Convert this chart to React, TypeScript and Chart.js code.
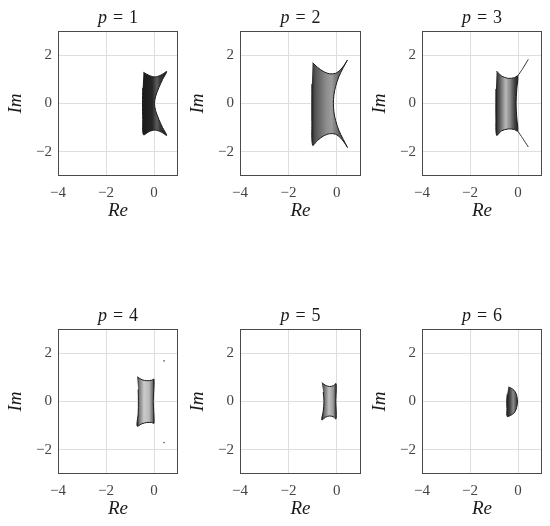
import React, { useEffect, useRef } from "react";
import { Chart, registerables } from "chart.js";

Chart.register(...registerables);

// ---- axis ticks ----
const xTicks = [-4, -2, 0];
const yTicks = [-2, 0, 2];
const pValues = [1, 2, 3, 4, 5, 6];

// ---- region boundaries (Re, Im) ----
const p1Re = [-0.44, -0.2, 0.05, 0.3, 0.53, 0.36, 0.2, 0.07, 0.02, 0.07, 0.2, 0.36, 0.53, 0.3, 0.05, -0.2, -0.44, -0.47, -0.48, -0.47];
const p1Im = [1.29, 1.16, 1.1, 1.18, 1.32, 1.0, 0.65, 0.3, 0, -0.3, -0.65, -1.0, -1.32, -1.18, -1.1, -1.16, -1.29, -0.65, 0, 0.65];

const p2Re = [-1.0, -0.8, -0.56, -0.3, -0.05, 0.15, 0.3, 0.44, 0.25, 0.08, -0.05, -0.12, -0.14, -0.12, -0.05, 0.08, 0.25, 0.44, 0.3, 0.15, -0.05, -0.3, -0.56, -0.8, -1.0, -1.03, -1.03];
const p2Im = [1.69, 1.5, 1.33, 1.23, 1.25, 1.4, 1.58, 1.8, 1.45, 1.1, 0.7, 0.35, 0, -0.35, -0.7, -1.1, -1.45, -1.82, -1.6, -1.42, -1.27, -1.25, -1.35, -1.53, -1.73, -0.8, 0.8];

const p3Re = [-0.89, -0.7, -0.4, -0.15, -0.01, -0.05, -0.08, -0.05, -0.01, -0.15, -0.4, -0.7, -0.89, -0.92, -0.92];
const p3Im = [1.34, 1.15, 1.04, 1.07, 1.14, 0.6, 0, -0.6, -1.14, -1.08, -1.05, -1.14, -1.32, -0.6, 0.6];
const p3HornRe = [-0.01, 0.2, 0.43];
const p3HornTopIm = [1.14, 1.45, 1.83];
const p3HornBottomIm = [-1.14, -1.45, -1.8];

const p4Re = [-0.7, -0.5, -0.3, -0.1, 0.0, -0.03, 0.0, -0.1, -0.3, -0.5, -0.7, -0.66, -0.65, -0.66];
const p4Im = [1.02, 0.9, 0.86, 0.88, 0.92, 0, -0.9, -0.87, -0.87, -0.92, -1.02, -0.5, 0, 0.5];
const p4DotRe = [0.42, 0.42];
const p4DotIm = [1.68, -1.7];

const p5Re = [-0.62, -0.45, -0.3, -0.15, -0.03, -0.04, -0.03, -0.15, -0.3, -0.45, -0.62, -0.56, -0.53, -0.56];
const p5Im = [0.78, 0.66, 0.62, 0.65, 0.74, 0, -0.72, -0.63, -0.6, -0.64, -0.76, -0.4, 0, 0.4];

const p6Re = [-0.4, -0.28, -0.17, -0.08, -0.04, -0.02, -0.04, -0.08, -0.17, -0.3, -0.45, -0.46, -0.47, -0.45];
const p6Im = [0.6, 0.55, 0.47, 0.33, 0.17, 0, -0.17, -0.33, -0.48, -0.57, -0.62, -0.3, 0, 0.3];

// ---- styles ----
const SERIF = '"Liberation Serif", "DejaVu Serif", serif';
const shades: [number, string][][] = [
  [[0, "#1a1a1a"], [0.4, "#262626"], [0.6, "#5e5e5e"], [0.72, "#3a3a3a"], [1, "#1e1e1e"]],
  [[0, "#2a2a2a"], [0.1, "#555"], [0.4, "#8c8c8c"], [0.55, "#9c9c9c"], [0.75, "#666"], [1, "#333"]],
  [[0, "#222"], [0.15, "#555"], [0.45, "#b8b8b8"], [0.65, "#8a8a8a"], [0.85, "#444"], [1, "#222"]],
  [[0, "#222"], [0.12, "#777"], [0.4, "#cacaca"], [0.7, "#bbb"], [0.9, "#777"], [1, "#333"]],
  [[0, "#222"], [0.15, "#666"], [0.5, "#c0c0c0"], [0.8, "#999"], [1, "#333"]],
  [[0, "#222"], [0.3, "#444"], [0.6, "#8a8a8a"], [0.85, "#555"], [1, "#222"]],
];
const layouts = [
  { left: 0, top: 0, width: 190, height: 230, right: 12 },
  { left: 182, top: 0, width: 190, height: 230, right: 11 },
  { left: 364, top: 0, width: 186, height: 230, right: 8 },
  { left: 0, top: 298, width: 190, height: 228, right: 12 },
  { left: 182, top: 298, width: 190, height: 228, right: 11 },
  { left: 364, top: 298, width: 186, height: 228, right: 8 },
];

const zip = (xs: number[], ys: number[]) => xs.map((x, i) => ({ x, y: ys[i] }));

const regions = [
  { re: p1Re, im: p1Im },
  { re: p2Re, im: p2Im },
  { re: p3Re, im: p3Im },
  { re: p4Re, im: p4Im },
  { re: p5Re, im: p5Im },
  { re: p6Re, im: p6Im },
];

const fmt = (v: number) => (v < 0 ? "\u2212" + Math.abs(v) : String(v));

function Panel({ idx }: { idx: number }) {
  const ref = useRef<HTMLCanvasElement | null>(null);
  const L = layouts[idx];
  useEffect(() => {
    if (!ref.current) return;
    const region = regions[idx];
    const stops = shades[idx];
    const minRe = Math.min(...region.re);
    const maxRe = Math.max(...region.re);
    const short = 230 - L.height;
    const xAxisH = 54 - short;
    const reTitlePad = 8 - short;

    const datasets: any[] = [
      {
        data: zip(region.re, region.im),
        borderColor: "#1a1a1a",
        borderWidth: 1,
        pointRadius: 0,
        tension: 0.3,
        fill: "shape",
        backgroundColor: (c: any) => {
          const chart = c.chart;
          if (!chart.chartArea) return "#555";
          const xs = chart.scales.x;
          const x0 = xs.getPixelForValue(minRe);
          const x1 = xs.getPixelForValue(maxRe);
          const g = chart.ctx.createLinearGradient(x0, 0, x1, 0);
          stops.forEach(([o, col]) => g.addColorStop(o, col));
          return g;
        },
      },
    ];
    if (idx === 2) {
      datasets.push(
        { data: zip(p3HornRe, p3HornTopIm), borderColor: "#333", borderWidth: 1, pointRadius: 0, tension: 0.4, fill: false },
        { data: zip(p3HornRe, p3HornBottomIm), borderColor: "#333", borderWidth: 1, pointRadius: 0, tension: 0.4, fill: false }
      );
    }
    if (idx === 3) {
      datasets.push({
        data: zip(p4DotRe, p4DotIm),
        showLine: false,
        pointRadius: 0.8,
        pointBorderWidth: 0,
        pointBackgroundColor: "#555",
        fill: false,
      });
    }

    const boxPlugin = {
      id: "box",
      afterDraw(chart: any) {
        const { ctx, chartArea: a } = chart;
        ctx.save();
        ctx.strokeStyle = "#4a4a4a";
        ctx.lineWidth = 1;
        ctx.strokeRect(a.left + 0.5, a.top + 0.5, a.right - a.left - 1, a.bottom - a.top - 1);
        ctx.restore();
      },
    };
    const titlePlugin = {
      id: "panelTitle",
      afterDraw(chart: any) {
        const { ctx, chartArea: a } = chart;
        const cx = (a.left + a.right) / 2;
        const it = "italic 18px " + SERIF;
        const up = "18px " + SERIF;
        const parts: [string, string][] = [["p", it], ["=", up], [String(pValues[idx]), up]];
        const gap = 6;
        ctx.save();
        const widths = parts.map(([t, f]) => {
          ctx.font = f;
          return ctx.measureText(t).width;
        });
        const total = widths.reduce((s, w) => s + w, 0) + gap * (parts.length - 1);
        let x = cx - total / 2;
        ctx.textBaseline = "middle";
        ctx.textAlign = "left";
        ctx.fillStyle = "#1a1a1a";
        parts.forEach(([t, f], i) => {
          ctx.font = f;
          ctx.fillText(t, x, 18);
          x += widths[i] + gap;
        });
        ctx.restore();
      },
    };

    const chart = new Chart(ref.current, {
      type: "line",
      data: { datasets },
      options: {
        animation: false,
        responsive: false,
        maintainAspectRatio: false,
        devicePixelRatio: 1,
        layout: { padding: { left: 0, right: L.right, top: 31, bottom: 0 } },
        plugins: { legend: { display: false }, tooltip: { enabled: false }, title: { display: false } },
        scales: {
          x: {
            type: "linear",
            min: -4,
            max: 1,
            afterBuildTicks: (a: any) => {
              a.ticks = xTicks.map((v) => ({ value: v }));
            },
            afterFit: (a: any) => {
              a.height = xAxisH;
            },
            grid: { color: "#dedede", lineWidth: 1, drawTicks: false },
            border: { display: false },
            ticks: { padding: 8, color: "#444", font: { family: SERIF, size: 15 }, callback: (v: any) => fmt(Number(v)), maxRotation: 0, autoSkip: false },
            title: { display: true, text: "Re", color: "#1a1a1a", font: { family: SERIF, size: 19, style: "italic" }, padding: { top: 0, bottom: reTitlePad } },
          },
          y: {
            type: "linear",
            min: -3,
            max: 3,
            afterBuildTicks: (a: any) => {
              a.ticks = yTicks.map((v) => ({ value: v }));
            },
            afterFit: (a: any) => {
              a.width = 58;
            },
            grid: { color: "#dedede", lineWidth: 1, drawTicks: false },
            border: { display: false },
            ticks: { padding: 6, color: "#444", font: { family: SERIF, size: 15 }, callback: (v: any) => fmt(Number(v)), autoSkip: false },
            title: { display: true, text: "Im", color: "#1a1a1a", font: { family: SERIF, size: 19, style: "italic" }, padding: { top: 5, bottom: 0 } },
          },
        },
      } as any,
      plugins: [boxPlugin, titlePlugin],
    });
    return () => chart.destroy();
  }, [idx]);

  return (
    <canvas
      ref={ref}
      width={L.width}
      height={L.height}
      style={{ position: "absolute", left: L.left, top: L.top, width: L.width, height: L.height }}
    />
  );
}

export default function App() {
  return (
    <div style={{ position: "absolute", left: 0, top: 0, width: 550, height: 526, overflow: "hidden", background: "#fff" }}>
      {pValues.map((_, i) => (
        <Panel key={i} idx={i} />
      ))}
    </div>
  );
}
